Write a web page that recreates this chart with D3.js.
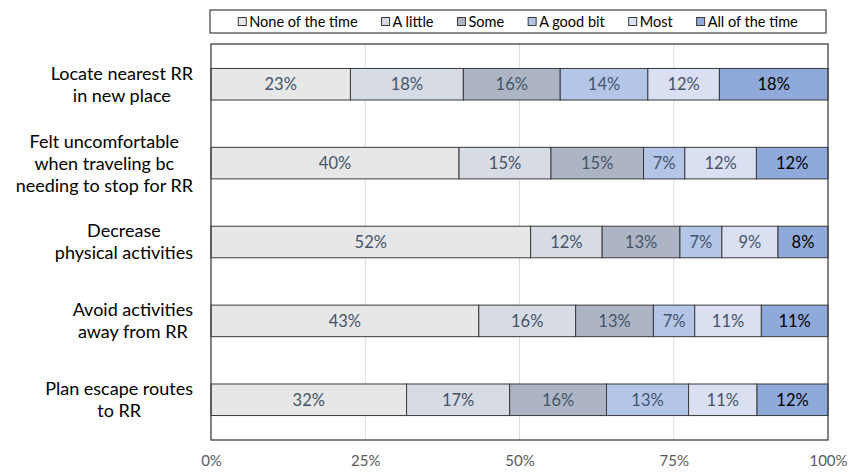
<!DOCTYPE html>
<html>
<head>
<meta charset="utf-8">
<script src="https://cdn.jsdelivr.net/npm/d3@7"></script>
<style>
  body { margin: 0; background: #fff; }
  svg text { font-family: Lato, "Open Sans", sans-serif; }
</style>
</head>
<body>
<svg id="chart" width="859" height="474"></svg>
<script>
// --- data ---
const categories = [
  ["Locate nearest RR", "in new place"],
  ["Felt uncomfortable", "when traveling bc", "needing to stop for RR"],
  ["Decrease", "physical activities"],
  ["Avoid activities", "away from RR"],
  ["Plan escape routes", "to RR"]
];
const seriesNames = ["None of the time", "A little", "Some", "A good bit", "Most", "All of the time"];
const values = [
  [22.6, 18.3, 15.7, 14.2, 11.6, 17.6],
  [40.2, 14.9, 15.0, 6.7, 11.6, 11.6],
  [51.8, 11.6, 12.6, 6.8, 9.1, 8.1],
  [43.4, 15.7, 12.6, 6.7, 10.8, 10.8],
  [31.7, 16.7, 15.7, 13.3, 11.1, 11.5]
];
const ticks = [0, 25, 50, 75, 100];

const colors = ["#e7e7e7", "#d6dbe4", "#adb5c4", "#b4c6e7", "#dae0f2", "#8fa9db"];
const labelColors = ["#44546a", "#44546a", "#44546a", "#44546a", "#44546a", "#000000"];

const margin = {top: 44, left: 211, right: 31, bottom: 34};
const W = 859, H = 474;
const svg = d3.select("#chart");

const x = d3.scaleLinear().domain([0, 100]).range([margin.left, W - margin.right]);
const y = d3.scaleBand().domain(d3.range(categories.length))
  .range([margin.top, H - margin.bottom]).paddingInner(0.6).paddingOuter(0.31);

// gridlines
svg.append("g").selectAll("line")
  .data(ticks.slice(1, -1))
  .join("line")
  .attr("x1", d => x(d)).attr("x2", d => x(d))
  .attr("y1", margin.top).attr("y2", H - margin.bottom)
  .attr("stroke", "#dcdcdc").attr("stroke-width", 1);

// stacked bars
const rows = values.map((v, i) => {
  let acc = 0;
  return v.map((d, j) => { const s = {row: i, k: j, x0: acc, x1: acc + d, v: d}; acc += d; return s; });
});

const rowG = svg.append("g").selectAll("g")
  .data(rows)
  .join("g");

rowG.selectAll("rect")
  .data(d => d)
  .join("rect")
  .attr("x", d => x(d.x0))
  .attr("y", d => y(d.row))
  .attr("width", d => x(d.x1) - x(d.x0))
  .attr("height", y.bandwidth())
  .attr("fill", d => colors[d.k])
  .attr("stroke", "#3a3a3a")
  .attr("stroke-width", 1);

rowG.selectAll("text")
  .data(d => d)
  .join("text")
  .attr("x", d => (x(d.x0) + x(d.x1)) / 2)
  .attr("y", d => y(d.row) + y.bandwidth() / 2)
  .attr("dy", "0.36em")
  .attr("text-anchor", "middle")
  .attr("font-size", 16.5)
  .attr("fill", d => labelColors[d.k])
  .text(d => Math.round(d.v) + "%");

// plot border
svg.append("rect")
  .attr("x", margin.left).attr("y", margin.top)
  .attr("width", W - margin.right - margin.left)
  .attr("height", H - margin.bottom - margin.top)
  .attr("fill", "none").attr("stroke", "#404040").attr("stroke-width", 1.3);

// x axis labels
const xAxis = svg.append("g")
  .attr("transform", `translate(0,${H - margin.bottom})`)
  .call(d3.axisBottom(x).tickValues(ticks).tickFormat(d => d + "%").tickSize(0).tickPadding(15));
xAxis.select(".domain").remove();
xAxis.selectAll("text")
  .attr("font-size", 15).attr("fill", "#595959")
  .style("font-family", "Lato, sans-serif");

// category labels: lines centered, block right-aligned
const lineH = 22;
const catG = svg.append("g");
categories.forEach((lines, i) => {
  const g = catG.append("g");
  const texts = g.selectAll("text").data(lines).join("text")
    .attr("font-size", 18).attr("fill", "#000")
    .attr("text-anchor", "middle")
    .attr("dy", "0.36em")
    .attr("y", (d, k) => y(i) + y.bandwidth() / 2 + (k - (lines.length - 1) / 2) * lineH)
    .text(d => d);
  const maxW = d3.max(texts.nodes(), n => n.getComputedTextLength());
  texts.attr("x", 193 - maxW / 2);
});

// legend
const legend = svg.append("g");
legend.append("rect")
  .attr("x", 210).attr("y", 10).attr("width", 616).attr("height", 23)
  .attr("fill", "#fff").attr("stroke", "#404040").attr("stroke-width", 1.2);
const items = legend.selectAll("g").data(seriesNames).join("g");
items.append("rect")
  .attr("width", 8).attr("height", 8).attr("y", 17.5)
  .attr("fill", (d, i) => colors[i]).attr("stroke", "#3a3a3a").attr("stroke-width", 1);
items.append("text")
  .attr("x", 11).attr("y", 21.5).attr("dy", "0.36em")
  .attr("font-size", 14.5).attr("fill", "#000")
  .text(d => d);
const widths = items.nodes().map(n => n.querySelector("text").getComputedTextLength() + 11);
const gap = 24;
const total = d3.sum(widths) + gap * (widths.length - 1);
let cx = 210 + (616 - total) / 2;
items.attr("transform", (d, i) => { const t = `translate(${cx},0)`; cx += widths[i] + gap; return t; });
</script>
</body>
</html>
